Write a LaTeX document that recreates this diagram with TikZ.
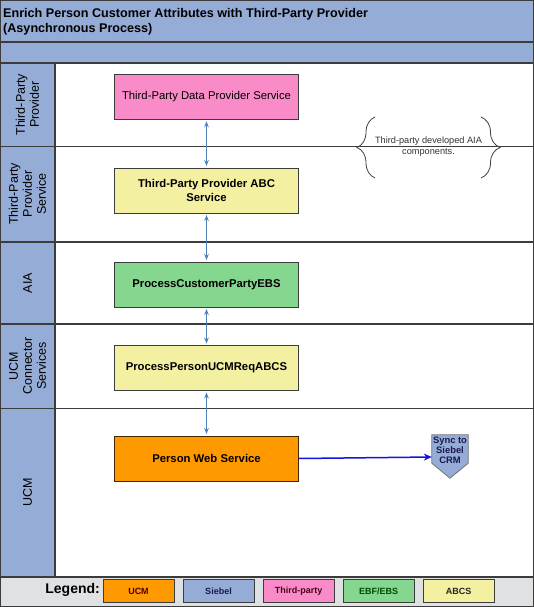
\documentclass[tikz,border=0pt]{standalone}
\usepackage{fontspec}
\setmainfont{Liberation Sans}
\usetikzlibrary{arrows.meta,decorations.pathreplacing}
\definecolor{laneblue}{RGB}{149,172,215}
\definecolor{pinkbox}{RGB}{249,140,200}
\definecolor{yellowbox}{RGB}{243,240,162}
\definecolor{greenbox}{RGB}{133,214,142}
\definecolor{orangebox}{RGB}{255,153,0}
\definecolor{linegray}{RGB}{60,60,60}
\definecolor{arrowblue}{RGB}{79,129,189}
\definecolor{syncblue}{RGB}{20,20,225}
\definecolor{legendgray}{RGB}{224,225,227}
\definecolor{navytext}{RGB}{25,25,80}
\tikzset{
  procbox/.style={draw=linegray, line width=0.9pt, minimum width=184pt, minimum height=45pt,
    align=center, inner sep=2pt, font=\fontsize{11.3}{13.5}\selectfont\bfseries},
  lanelabel/.style={rotate=90, align=center, font=\fontsize{12.5}{14}\selectfont, inner sep=0pt},
  biarrow/.style={draw=arrowblue, line width=0.8pt, shorten <=1.5pt, shorten >=1.5pt,
    {Stealth[length=6pt,width=4.5pt]}-{Stealth[length=6pt,width=4.5pt]}},
  legbox/.style={draw=linegray, line width=1pt, minimum width=71pt, minimum height=23pt,
    inner sep=0pt, font=\fontsize{9}{10}\selectfont\bfseries},
  bandline/.style={draw=linegray, line width=1.1pt},
  titletext/.style={anchor=base west, inner sep=0pt, font=\fontsize{12.6}{15}\selectfont\bfseries},
  bracestyle/.style={draw=black!75, line width=0.8pt, decorate}
}
\begin{document}
\begin{tikzpicture}[x=1pt,y=-1pt]
\useasboundingbox (0,0) rectangle (534,607);
% backgrounds
\fill[white] (0,0) rectangle (534,607);
\fill[laneblue] (0,0) rectangle (534,63);
\fill[laneblue] (0,63) rectangle (55,577);
\fill[legendgray] (0,577) rectangle (534,607);
% band lines
\draw[bandline] (0,42) -- (534,42);
\draw[bandline] (0,63) -- (534,63);
\draw[bandline] (0,146.5) -- (534,146.5);
\draw[bandline] (0,242) -- (534,242);
\draw[bandline] (0,324) -- (534,324);
\draw[bandline] (0,408.5) -- (534,408.5);
\draw[bandline] (0,577) -- (534,577);
\draw[bandline] (55,63) -- (55,577);
\draw[draw=linegray, line width=1.6pt] (0,0) rectangle (534,607);
% title
\node[titletext] (title1) at (3,18) {Enrich Person Customer Attributes with Third-Party Provider};
\node[titletext] (title2) at (3,33) {(Asynchronous Process)};
% lane labels
\node[lanelabel] (lane1) at (27.5,104.7) {Third-Party\\Provider};
\node[lanelabel] (lane2) at (27.5,194) {Third-Party\\Provider\\Service};
\node[lanelabel] (lane3) at (27.5,283) {AIA};
\node[lanelabel] (lane4) at (27.5,366) {UCM\\Connector\\Services};
\node[lanelabel] (lane5) at (27.5,492.7) {UCM};
% process boxes
\node[procbox, fill=pinkbox, font=\fontsize{11.3}{13.5}\selectfont] (tpdps) at (206.5,96.8) {Third-Party Data Provider Service};
\node[procbox, fill=yellowbox] (tpabc) at (206.5,190.5) {Third-Party Provider ABC\\Service};
\node[procbox, fill=greenbox] (ebs) at (206.5,284.5) {ProcessCustomerPartyEBS};
\node[procbox, fill=yellowbox] (abcs) at (206.5,368) {ProcessPersonUCMReqABCS};
\node[procbox, fill=orangebox, draw=black!60!orange!70!black] (pws) at (206.5,458.5) {Person Web Service};
% connectors
\draw[biarrow] (tpdps.south) -- (tpabc.north);
\draw[biarrow] (tpabc.south) -- (ebs.north);
\draw[biarrow] (ebs.south) -- (abcs.north);
\draw[biarrow] (abcs.south) -- (pws.north);
% off-page reference
\node[minimum width=36pt, minimum height=28pt, inner sep=0pt] (sync) at (450,449) {};
\draw[fill=laneblue, draw=black!55, line width=0.8pt] (sync.north west) -- (sync.north east) -- (sync.south east)
  -- ([yshift=-15pt]sync.south) -- (sync.south west) -- cycle;
\node[align=center, inner sep=0pt, font=\fontsize{9.4}{10.2}\selectfont\bfseries, text=navytext] (synctext) at ([yshift=-1.5pt]sync.center) {Sync to\\Siebel\\CRM};
\draw[draw=syncblue, line width=1.5pt, -{Stealth[length=8pt,width=7pt]}] (pws.east) -- ([yshift=-8pt]sync.west);
% annotation
\node[align=center, inner sep=0pt, font=\fontsize{9.2}{11}\selectfont, text=black!80] (note) at (428.5,147) {Third-party developed AIA\\components.};
\draw[bracestyle, decoration={brace, amplitude=18pt}] (375,178) -- (375,117);
\draw[bracestyle, decoration={brace, amplitude=19pt}] (481,117) -- (481,178);
% legend
\node[anchor=east, inner sep=0pt, font=\fontsize{14}{16}\selectfont\bfseries] (legend) at (100,590) {Legend:};
\node[legbox, fill=orangebox, text=black!50!red!60!black] (lucm) at (138.5,591) {UCM};
\node[legbox, fill=laneblue, text=navytext] (lsiebel) at (218.5,591) {Siebel};
\node[legbox, fill=pinkbox, text=black!60!purple] (ltp) at (298.5,591) {Third-party};
\node[legbox, fill=greenbox, text=black!70!green] (lebf) at (378.5,591) {EBF/EBS};
\node[legbox, fill=yellowbox, text=black!85] (labcs) at (458.5,591) {ABCS};
\end{tikzpicture}
\end{document}
